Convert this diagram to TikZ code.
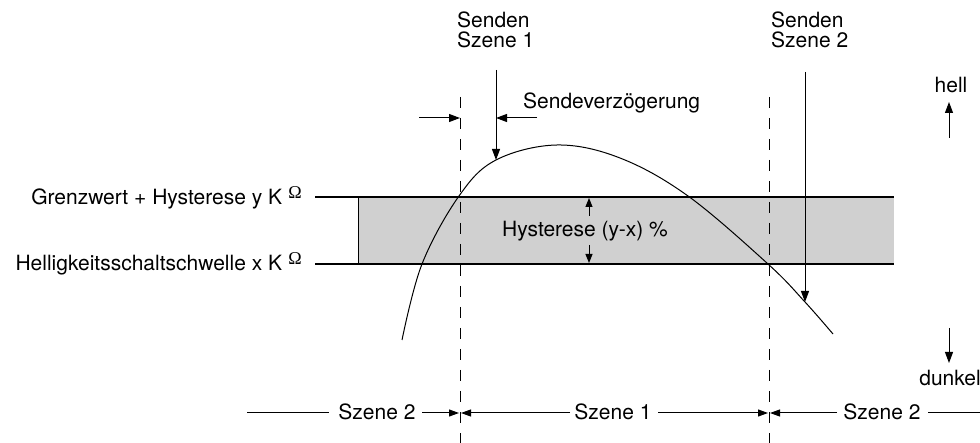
\documentclass[tikz,border=0pt]{standalone}
\usepackage{fontspec}
\setmainfont{TeX Gyre Heros}
\newfontfamily\omfont{Liberation Serif}
\usetikzlibrary{arrows.meta}
\definecolor{bandgray}{HTML}{D0D0D0}
\newcommand{\omsym}{\raisebox{0.3em}{\omfont\fontsize{18}{18}\selectfont Ω}}
\begin{document}
\begin{tikzpicture}[x=1pt,y=-1pt,
  lbl/.style={font=\fontsize{21}{21}\selectfont, inner sep=0pt},
  thinline/.style={line width=1pt},
  tipline/.style={line width=1pt,-{Triangle[length=11pt,width=8pt]}},
  smalltip/.style={line width=1pt,-{Triangle[length=9pt,width=7pt]}},
  rowtip/.style={line width=1pt,-{Triangle[length=10pt,width=7pt]}},
  dashline/.style={line width=1pt, dash pattern=on 11pt off 10pt},
]
\useasboundingbox (0,0) rectangle (980,443);
% band
\fill[bandgray] (358,197) rectangle (894,264);
\coordinate (tl) at (315,197); \coordinate (tr) at (894,197);
\coordinate (bl) at (315,264); \coordinate (br) at (894,264);
\coordinate (bxl) at (358,197); \coordinate (bxb) at (358,264);
\draw[line width=1.3pt] (tl) -- (tr);
\draw[thinline] (bxl) -- (bxb);
\draw[line width=2.6pt] (bl) -- (br);
% dashed lines
\coordinate (d1t) at (460,97); \coordinate (d1b) at (460,443);
\coordinate (d2t) at (769,97); \coordinate (d2b) at (769,443);
\draw[dashline] (d1t) -- (d1b);
\draw[dashline] (d2t) -- (d2b);
% curve
\draw[thinline] plot[smooth, tension=0.6] coordinates {(402,340) (422,264) (459,196) (496,160) (557,145) (620,158) (688,196) (768,264) (805,302) (833,334)};
% left labels
\node[lbl, anchor=base east] (lg) at (302,205) {Grenzwert + Hysterese y K\hspace{0.3em}\omsym};
\node[lbl, anchor=base east] (lh) at (302,271) {Helligkeitsschaltschwelle x K\hspace{0.3em}\omsym};
% Senden labels
\node[lbl, anchor=base west] (s1a) at (457,28) {Senden};
\node[lbl, anchor=base west] (s1b) at (457,48) {Szene 1};
\node[lbl, anchor=base west] (s2a) at (771,28) {Senden};
\node[lbl, anchor=base west] (s2b) at (771,48) {Szene 2};
\coordinate (a1t) at (496,70); \coordinate (a1h) at (496,160);
\coordinate (a2t) at (805,72); \coordinate (a2h) at (805,302);
\draw[tipline] (a1t) -- (a1h);
\draw[tipline] (a2t) -- (a2h);
% Sendeverzoegerung
\node[lbl, anchor=base west] (sv) at (523,109) {Sendeverzögerung};
\coordinate (svl) at (419,118); \coordinate (svlh) at (460,118);
\coordinate (svr) at (537,118); \coordinate (svrh) at (496,118);
\draw[tipline] (svl) -- (svlh);
\draw[tipline] (svr) -- (svrh);
% Hysterese
\node[lbl, anchor=base] (hy) at (585,237) {Hysterese (y-x) \%};
\coordinate (hu1) at (589,216); \coordinate (hu2) at (589,198);
\coordinate (hd1) at (589,245); \coordinate (hd2) at (589,263);
\draw[smalltip] (hu1) -- (hu2);
\draw[smalltip] (hd1) -- (hd2);
% hell / dunkel
\node[lbl, anchor=base] (hell) at (951,93) {hell};
\coordinate (he1) at (949,138); \coordinate (he2) at (949,102);
\draw[tipline] (he1) -- (he2);
\node[lbl, anchor=base east] (dk) at (981,386) {dunkel};
\coordinate (dk1) at (949,328); \coordinate (dk2) at (949,363);
\draw[tipline] (dk1) -- (dk2);
% bottom row
\node[lbl, anchor=base] (z2l) at (377,420) {Szene 2};
\node[lbl, anchor=base] (z1) at (613,420) {Szene 1};
\node[lbl, anchor=base] (z2r) at (882,420) {Szene 2};
\coordinate (r0) at (247,413); \coordinate (r1) at (329,413);
\coordinate (r2) at (422,413); \coordinate (r3) at (459,413);
\coordinate (r4) at (570,413); \coordinate (r5) at (461,413);
\coordinate (r6) at (658,413); \coordinate (r7) at (768,413);
\coordinate (r8) at (837,413); \coordinate (r9) at (770,413);
\coordinate (r10) at (928,413); \coordinate (r11) at (980,413);
\draw[thinline] (r0) -- (r1);
\draw[rowtip] (r2) -- (r3);
\draw[rowtip] (r4) -- (r5);
\draw[rowtip] (r6) -- (r7);
\draw[rowtip] (r8) -- (r9);
\draw[thinline] (r10) -- (r11);
\end{tikzpicture}
\end{document}
